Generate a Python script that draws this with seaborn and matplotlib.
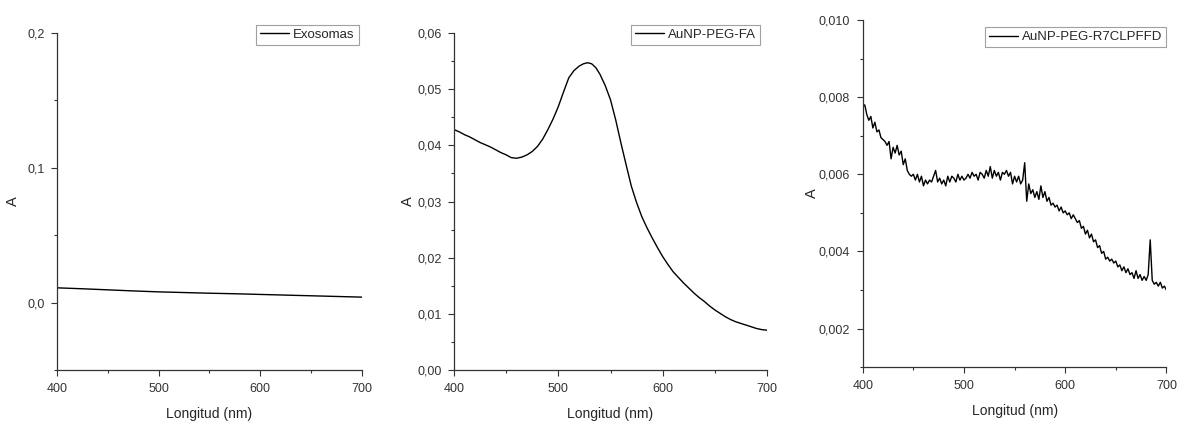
"""Espectros UV-Vis: exosomas, AuNP-PEG-FA y AuNP-PEG-R7CLPFFD."""

import matplotlib
import pandas as pd
import seaborn as sns

matplotlib.use("Agg")
import matplotlib.pyplot as plt  # noqa: E402
from matplotlib.ticker import FuncFormatter, MultipleLocator  # noqa: E402

sns.set_theme(style="ticks")
plt.rcParams["font.family"] = ["Liberation Sans", "DejaVu Sans"]

# --- datos ---
exo_nm = [400, 425, 450, 475, 500, 525, 550, 575, 600, 625, 650, 675, 700]
exo_abs = [0.0110, 0.0103, 0.0095, 0.0087, 0.0080, 0.0075, 0.0070, 0.0066,
           0.0061, 0.0056, 0.0051, 0.0046, 0.0041]

fa_nm = [400, 405, 410, 415, 420, 425, 430, 435, 440, 445, 450, 455, 460,
         465, 470, 475, 480, 485, 490, 495, 500, 505, 510, 515, 520, 524,
         528, 532, 536, 540, 545, 550, 555, 560, 565, 570, 575, 580, 585,
         590, 595, 600, 605, 610, 615, 620, 625, 630, 635, 640, 645, 650,
         655, 660, 665, 670, 675, 680, 685, 690, 695, 700]
fa_abs = [0.0428, 0.0424, 0.0419, 0.0415, 0.0410, 0.0405, 0.0401, 0.0397,
          0.0392, 0.0387, 0.0383, 0.0378, 0.0377, 0.0379, 0.0383, 0.0389,
          0.0398, 0.0411, 0.0428, 0.0447, 0.0469, 0.0495, 0.0520, 0.0533,
          0.0541, 0.0545, 0.0547, 0.0545, 0.0538, 0.0526, 0.0506, 0.0481,
          0.0445, 0.0404, 0.0365, 0.0327, 0.0298, 0.0273, 0.0253, 0.0235,
          0.0218, 0.0202, 0.0188, 0.0175, 0.0165, 0.0155, 0.0146, 0.0137,
          0.0129, 0.0122, 0.0114, 0.0107, 0.0101, 0.0095, 0.0090, 0.0086,
          0.0083, 0.0080, 0.0077, 0.0074, 0.0072, 0.0071]

# R7CLPFFD cada 2 nm de 400 a 700 (valores x1e-3)
r7_nm = list(range(400, 701, 2))
r7_abs_milli = [
    7.75, 7.80, 7.55, 7.40, 7.50, 7.20, 7.35, 7.10, 7.15, 6.95,
    6.90, 6.85, 6.75, 6.85, 6.40, 6.70, 6.55, 6.75, 6.50, 6.60,
    6.25, 6.40, 6.10, 6.00, 5.95, 6.00, 5.85, 6.00, 5.80, 5.95,
    5.70, 5.85, 5.75, 5.85, 5.80, 5.95, 6.10, 5.80, 5.90, 5.75,
    5.85, 5.70, 5.95, 5.80, 5.95, 5.90, 5.80, 6.00, 5.85, 5.95,
    5.85, 5.90, 6.00, 5.90, 6.05, 5.95, 6.00, 5.85, 6.05, 6.00,
    5.90, 6.10, 5.95, 6.20, 5.90, 6.10, 5.95, 6.05, 5.85, 6.05,
    6.00, 6.10, 5.95, 6.05, 5.75, 5.95, 5.80, 5.95, 5.75, 5.85,
    6.30, 5.30, 5.75, 5.50, 5.60, 5.40, 5.55, 5.35, 5.70, 5.40,
    5.55, 5.30, 5.40, 5.20, 5.25, 5.15, 5.20, 5.05, 5.15, 5.00,
    5.05, 4.95, 5.00, 4.85, 4.95, 4.85, 4.75, 4.80, 4.60, 4.65,
    4.45, 4.55, 4.35, 4.45, 4.25, 4.30, 4.10, 4.15, 3.95, 4.00,
    3.80, 3.85, 3.75, 3.80, 3.70, 3.75, 3.60, 3.65, 3.50, 3.60,
    3.45, 3.55, 3.40, 3.45, 3.30, 3.50, 3.30, 3.40, 3.25, 3.35,
    3.25, 3.40, 4.30, 3.25, 3.15, 3.20, 3.10, 3.20, 3.05, 3.10,
    3.00,
]
r7_abs = [v / 1000 for v in r7_abs_milli]

PANELS = [
    dict(nm=exo_nm, a=exo_abs, label="Exosomas", ylim=(-0.05, 0.2),
         major=0.1, minor=0.05, dec=1, ylab_x=-0.12, leg=(0.99, 1.024),
         pos=[0.0484, 0.123, 0.259, 0.799]),
    dict(nm=fa_nm, a=fa_abs, label="AuNP-PEG-FA", ylim=(0.0, 0.06),
         major=0.01, minor=0.005, dec=2, ylab_x=-0.126, leg=(0.978, 1.024),
         pos=[0.3857, 0.123, 0.266, 0.799]),
    dict(nm=r7_nm, a=r7_abs, label="AuNP-PEG-R7CLPFFD", ylim=(0.001, 0.010),
         major=0.002, minor=0.001, dec=3, ylab_x=-0.144, leg=(1.0, 0.98),
         pos=[0.733, 0.130, 0.258, 0.8226]),
]


def comma(dec):
    return FuncFormatter(lambda v, _: f"{v:.{dec}f}".replace(".", ","))


fig = plt.figure(figsize=(11.77, 4.22), dpi=100)
for p in PANELS:
    ax = fig.add_axes(p["pos"])
    df = pd.DataFrame({"nm": p["nm"], "A": p["a"]})
    sns.lineplot(data=df, x="nm", y="A", color="black", linewidth=1.0,
                 label=p["label"], ax=ax)
    ax.set_xlim(400, 700)
    ax.set_ylim(*p["ylim"])
    ax.xaxis.set_major_locator(MultipleLocator(100))
    ax.xaxis.set_minor_locator(MultipleLocator(50))
    ax.yaxis.set_major_locator(MultipleLocator(p["major"]))
    ax.yaxis.set_minor_locator(MultipleLocator(p["minor"]))
    ax.yaxis.set_major_formatter(comma(p["dec"]))
    ax.tick_params(which="major", length=4, width=0.8, labelsize=9,
                   colors="#333333", pad=5)
    ax.tick_params(which="minor", length=2.5, width=0.8, colors="#333333")
    sns.despine(ax=ax)
    for s in ("left", "bottom"):
        ax.spines[s].set_color("#333333")
        ax.spines[s].set_linewidth(0.9)
    ax.set_xlabel("Longitud (nm)", fontsize=10, labelpad=9)
    ax.set_ylabel("A", fontsize=10.5)
    ax.yaxis.set_label_coords(p["ylab_x"], 0.5)
    leg = ax.legend(loc="upper right", bbox_to_anchor=p["leg"], fontsize=9.5,
                    frameon=True, fancybox=False, borderpad=0.3,
                    handlelength=2.2, handletextpad=0.3, borderaxespad=0.0)
    leg.get_frame().set_edgecolor("#888888")
    leg.get_frame().set_linewidth(0.8)

fig.savefig("out.png", dpi=100)
